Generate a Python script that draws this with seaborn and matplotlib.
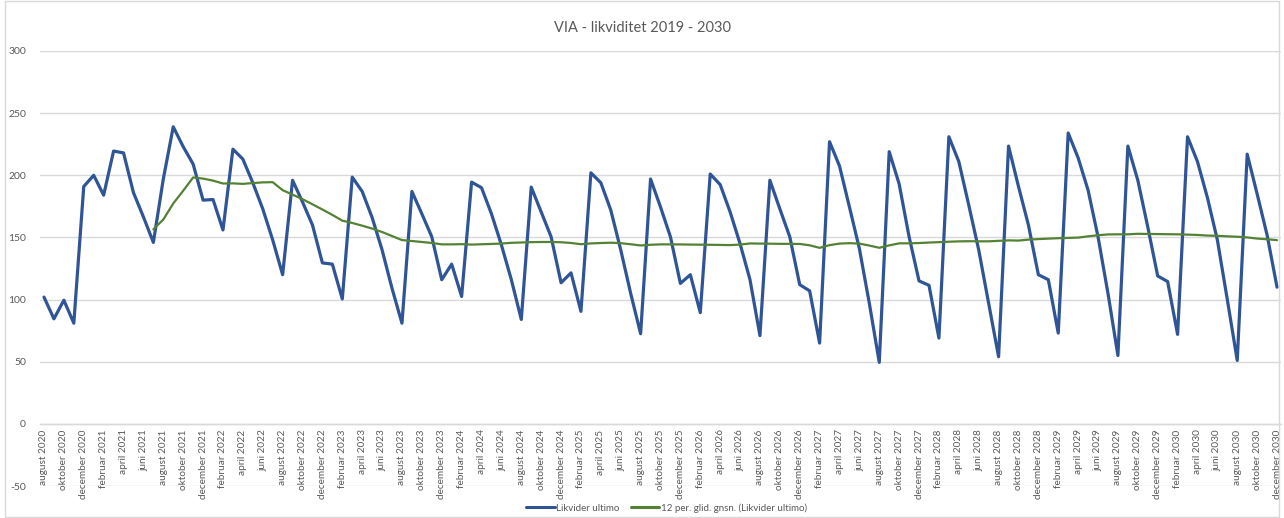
import matplotlib
matplotlib.use("Agg")
import matplotlib.pyplot as plt
import seaborn as sns
import pandas as pd
import numpy as np

# ---- data ----
month_names = ["januar", "februar", "marts", "april", "maj", "juni",
               "juli", "august", "september", "oktober", "november", "december"]
start_month = 7   # august (0-based)
start_year = 2020
n_months = 125    # august 2020 .. december 2030

likvider_ultimo = [
    102, 84.5, 99.5, 81, 191, 200, 184, 219.5, 218, 186, 166.5, 146,
    197, 239, 223, 209, 180, 180.5, 156, 221, 213, 194, 173, 148,
    120, 196, 178.5, 160, 129.5, 128.5, 100.5, 198.5, 187, 166, 140, 109,
    81, 187, 169, 150.5, 116, 128.5, 102.5, 194.5, 190, 169, 144, 116,
    84, 190.5, 170.5, 150.5, 113.5, 121.5, 90.5, 202, 194, 172, 140, 105,
    72.5, 197, 174.5, 150.5, 113, 120, 89.5, 201, 192.5, 170.5, 145, 116,
    71, 196, 173, 150.5, 112, 107, 65, 227, 207.5, 174.5, 141, 97,
    49.5, 219, 193, 150.5, 115, 111.5, 69, 231, 211, 176, 140, 97,
    54, 223.5, 191, 160, 120, 116, 73, 234, 214, 188, 150.5, 105,
    55, 223.5, 196, 158.5, 119, 114.5, 72, 231, 211, 182, 148, 100,
    51, 217, 185, 152, 110,
]
y_ticks = [-50, 0, 50, 100, 150, 200, 250, 300]
title = "VIA - likviditet 2019 - 2030"
series_names = ["Likvider ultimo", "12 per. glid. gnsn. (Likvider ultimo)"]

categories = [f"{month_names[(start_month + i) % 12]} {start_year + (start_month + i) // 12}"
              for i in range(n_months)]

df = pd.DataFrame({"idx": np.arange(n_months), "month": categories,
                   "value": likvider_ultimo})
df["ma"] = df["value"].rolling(12).mean()

# ---- style ----
sns.set_style("white")
plt.rcParams["font.family"] = ["Lato", "DejaVu Sans"]

fig = plt.figure(figsize=(12.84, 5.18), dpi=100)
ax = fig.add_axes([40 / 1284, 1 - 486 / 518, (1281 - 40) / 1284, (486 - 51) / 518])

blue = "#2F5597"
green = "#548235"
grid_c = "#D9D9D9"
text_c = "#595959"

sns.lineplot(data=df, x="idx", y="value", ax=ax, color=blue, linewidth=2.3,
             label=series_names[0])
sns.lineplot(data=df.dropna(), x="idx", y="ma", ax=ax, color=green, linewidth=1.6,
             label=series_names[1])

# spines first (set_position resets the tick objects)
for s in ["top", "right", "left"]:
    ax.spines[s].set_visible(False)
ax.spines["bottom"].set_position(("data", 0))
ax.spines["bottom"].set_color(grid_c)
ax.spines["bottom"].set_linewidth(1)

ax.set_xlim(-0.4, n_months - 1 + 0.4)
ax.set_ylim(-50, 300)
ax.set_yticks(y_ticks)
ax.set_yticklabels([str(t) for t in y_ticks], fontsize=7.5, color=text_c)
ax.yaxis.grid(True, color=grid_c, linewidth=1)
ax.set_axisbelow(True)

tick_pos = list(range(0, n_months, 2))
ax.set_xticks(tick_pos)
ax.set_xticklabels([categories[i] for i in tick_pos], rotation=90, fontsize=7.2,
                   color=text_c)
ax.tick_params(axis="x", length=0, pad=4)
ax.tick_params(axis="y", length=0, pad=10)

ax.set_xlabel("")
ax.set_ylabel("")

fig.text(0.5, 1 - 28 / 518, title, ha="center", va="center", fontsize=10.5,
         color=text_c)

leg = ax.legend(loc="center", bbox_to_anchor=(0.505, -((508 - 486) / (486 - 51))),
                ncol=2, frameon=False, fontsize=7, handlelength=2.9,
                handletextpad=0.15, columnspacing=1.2)
for t in leg.get_texts():
    t.set_color(text_c)
for h in leg.get_lines():
    h.set_linewidth(2.2)

# chart border
fig.patches.append(plt.Rectangle((0.004, 0.002), 0.992, 0.996, transform=fig.transFigure,
                                 fill=False, edgecolor=grid_c, linewidth=1))

fig.savefig("out.png", dpi=100)
